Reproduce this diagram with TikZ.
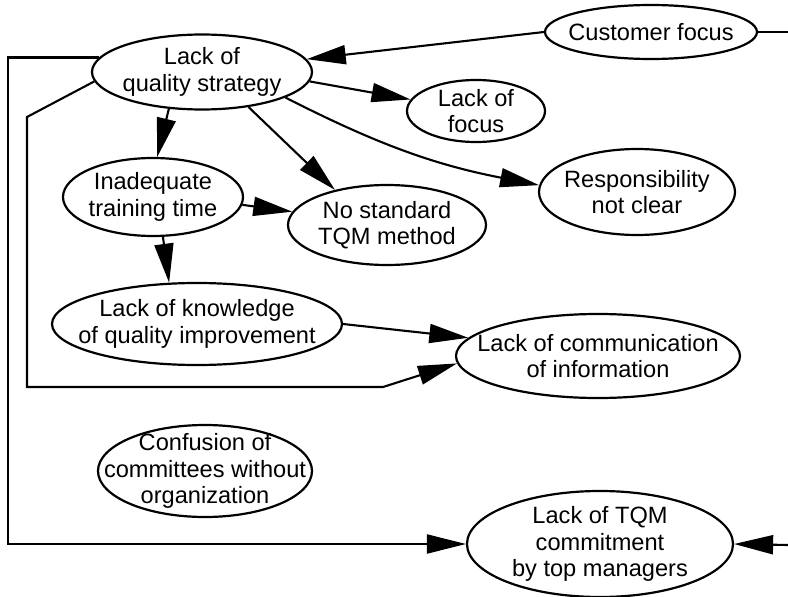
\documentclass[tikz,border=0pt]{standalone}
\usepackage{fontspec}
\setmainfont{Liberation Sans}
\usetikzlibrary{shapes.geometric,arrows.meta}
\begin{document}
\begin{tikzpicture}[x=1pt,y=-1pt,
  elps/.style={ellipse, draw, line width=2.2pt, inner sep=0pt},
  txt/.style={font=\fontsize{23.6}{26.5}\selectfont, align=center, inner sep=0pt},
  ln/.style={line width=2.1pt},
  arr/.style={line width=2.1pt, -{Triangle[length=39pt,width=19pt]}}]
\useasboundingbox (0,0) rectangle (788,597);
% ellipses
\node[elps, minimum width=212pt, minimum height=54pt] (cf) at (651,32) {};
\node[txt] (cf-t) at (cf) {Customer focus};
\node[elps, minimum width=220pt, minimum height=75pt] (lqs) at (202,72) {};
\node[txt] (lqs-t) at (lqs) {Lack of\\quality strategy};
\node[elps, minimum width=138pt, minimum height=62pt] (lof) at (476,111) {};
\node[txt] (lof-t) at (lof) {Lack of\\focus};
\node[elps, minimum width=180pt, minimum height=78pt] (inad) at (153,197) {};
\node[txt] (inad-t) at (inad) {Inadequate\\training time};
\node[elps, minimum width=198pt, minimum height=80pt] (nostd) at (387,225) {};
\node[txt] (nostd-t) at (nostd) {No standard\\TQM method};
\node[elps, minimum width=196pt, minimum height=86pt] (resp) at (637,192) {};
\node[txt] (resp-t) at (resp) {Responsibility\\not clear};
\node[elps, minimum width=290pt, minimum height=82pt] (know) at (197,324) {};
\node[txt] (know-t) at (know) {Lack of knowledge\\of quality improvement};
\node[elps, minimum width=284pt, minimum height=84pt] (comm) at (598,356) {};
\node[txt] (comm-t) at (comm) {Lack of communication\\of information};
\node[elps, minimum width=214pt, minimum height=92pt] (conf) at (205,471) {};
\node[txt] (conf-t) at (conf) {Confusion of\\committees without\\organization};
\node[elps, minimum width=266pt, minimum height=106pt] (tqm) at (600,544) {};
\node[txt] (tqm-t) at (tqm) {Lack of TQM\\commitment\\by top managers};
% helper coordinates
\coordinate (L1) at (8,0);
\coordinate (a1) at (27,117);
\coordinate (a2) at (27,387);
\coordinate (a3) at (383,387);
\coordinate (R1) at (788,32);
\coordinate (R2) at (788,545);
% connectors
\draw[arr] (cf.west) -- (lqs.7);
\draw[ln] (cf.east) -- (R1);
\draw[arr] (R2) -- (tqm.east);
\draw[arr] (lqs.-5) -- (lof.170);
\draw[arr] (lqs.-17) to[bend right=8] (resp.176);
\draw[arr] (lqs.-132) -- (inad.84);
\draw[arr] (lqs.-37) -- (nostd.146);
\draw[arr] (inad.-5) -- (nostd.172);
\draw[arr] (inad.-76) -- (know.124);
\draw[arr] (know.east) -- (comm.172);
\draw[arr] (lqs.185) -- (a1) -- (a2) -- (a3) -- (comm.183);
\draw[arr] (lqs.172) -| (L1 |- tqm.west) -- (tqm.west);
\end{tikzpicture}
\end{document}
